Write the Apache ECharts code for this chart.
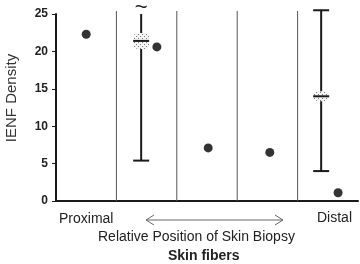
<!DOCTYPE html>
<html>
<head>
<meta charset="utf-8">
<script src="https://cdn.jsdelivr.net/npm/echarts@6/dist/echarts.min.js"></script>
<style>
  html, body { margin: 0; padding: 0; background: #fff; }
  #chart { width: 360px; height: 264px; }
</style>
</head>
<body>
<div id="chart"></div>
<script>
// positions along the leg (0 = proximal, 5 = distal)
const separators = [1, 2, 3, 4];
const dots = [
  [0.5, 22.3],
  [1.67, 20.6],
  [2.52, 7.1],
  [3.54, 6.5],
  [4.67, 1.1],
];
// [x, mean, low, high]
const errorBars = [
  [1.41, 21.4, 5.4, 25],
  [4.39, 14.0, 4.0, 25.5],
];
const brokenTop = [[1.41, 25.9]];
const yTicks = [0, 5, 10, 15, 20, 25];

const ink = "#1a1a1a";

function dotPattern() {
  const c = document.createElement("canvas");
  c.width = 4;
  c.height = 4;
  const g = c.getContext("2d");
  g.fillStyle = "#f4f4f4";
  g.fillRect(0, 0, 4, 4);
  g.fillStyle = "#777";
  g.fillRect(0, 0, 1, 1);
  g.fillRect(2, 2, 1, 1);
  return c;
}

const chart = echarts.init(document.getElementById("chart"));
const pattern = dotPattern();

const option = {
  animation: false,
  grid: { left: 56, right: 2, top: 14, bottom: 63, outerBoundsMode: "none", containLabel: false },
  xAxis: {
    type: "value",
    min: 0,
    max: 5,
    axisLine: { lineStyle: { color: ink, width: 2 } },
    axisTick: { show: false },
    axisLabel: { show: false },
    splitLine: { show: false },
  },
  yAxis: {
    type: "value",
    min: 0,
    max: 25,
    interval: 5,
    axisLine: { show: true, lineStyle: { color: ink, width: 2 } },
    axisTick: { show: true, length: 4, lineStyle: { color: ink, width: 1 } },
    axisLabel: {
      margin: 8,
      fontFamily: "Liberation Sans",
      fontWeight: "bold",
      fontSize: 12,
      color: "#222",
      formatter: (v) => (yTicks.includes(v) ? String(v) : ""),
    },
    splitLine: { show: false },
  },
  series: [
    {
      type: "custom",
      clip: false,
      silent: true,
      data: separators.map((x) => [x]),
      renderItem: (params, api) => {
        const x = api.value(0);
        const a = api.coord([x, 0]);
        const b = api.coord([x, 25.4]);
        return {
          type: "line",
          shape: { x1: a[0], y1: a[1], x2: b[0], y2: b[1] },
          style: { stroke: "#555", lineWidth: 1 },
        };
      },
    },
    {
      type: "custom",
      clip: false,
      silent: true,
      data: errorBars,
      renderItem: (params, api) => {
        const x = api.value(0);
        const mid = api.coord([x, api.value(1)]);
        const lo = api.coord([x, api.value(2)]);
        const hi = api.coord([x, api.value(3)]);
        const capped = api.value(3) > 25;
        const children = [
          {
            type: "line",
            shape: { x1: lo[0], y1: lo[1], x2: hi[0], y2: hi[1] },
            style: { stroke: ink, lineWidth: 2 },
          },
          {
            type: "line",
            shape: { x1: lo[0] - 8, y1: lo[1], x2: lo[0] + 8, y2: lo[1] },
            style: { stroke: ink, lineWidth: 2 },
          },
        ];
        if (capped) {
          children.push({
            type: "line",
            shape: { x1: hi[0] - 8, y1: hi[1], x2: hi[0] + 8, y2: hi[1] },
            style: { stroke: ink, lineWidth: 2 },
          });
        }
        const h = params.dataIndex === 0 ? 16 : 10;
        children.push({
          type: "rect",
          shape: { x: mid[0] - 8, y: mid[1] - h / 2, width: 16, height: h, r: 5 },
          style: { fill: { image: pattern, repeat: "repeat" }, stroke: null },
        });
        children.push({
          type: "line",
          shape: { x1: mid[0] - 8, y1: mid[1], x2: mid[0] + 8, y2: mid[1] },
          style: { stroke: ink, lineWidth: 2 },
        });
        return { type: "group", children };
      },
    },
    {
      type: "custom",
      clip: false,
      silent: true,
      data: brokenTop,
      renderItem: (params, api) => {
        const p = api.coord([api.value(0), api.value(1)]);
        return {
          type: "text",
          x: p[0],
          y: p[1] + 1,
          style: {
            text: "~",
            fontFamily: "Liberation Sans",
            fontSize: 22,
            fill: ink,
            align: "center",
            verticalAlign: "middle",
          },
        };
      },
    },
    {
      type: "scatter",
      symbol: "circle",
      symbolSize: 9,
      itemStyle: { color: "#000" },
      data: dots,
    },
  ],
  graphic: [
    {
      type: "text",
      x: 12,
      y: 98,
      rotation: Math.PI / 2,
      style: {
        text: "IENF Density",
        fontFamily: "Liberation Sans",
        fontSize: 15,
        fill: "#333",
        align: "center",
        verticalAlign: "middle",
      },
    },
    {
      type: "text",
      left: 59,
      top: 212,
      style: { text: "Proximal", fontFamily: "Liberation Sans", fontSize: 14, fill: "#222" },
    },
    {
      type: "text",
      left: 317,
      top: 211,
      style: { text: "Distal", fontFamily: "Liberation Sans", fontSize: 14, fill: "#222" },
    },
    {
      type: "polyline",
      shape: { points: [[154, 215], [146, 220], [154, 225]] },
      style: { stroke: "#666", lineWidth: 1, fill: null },
    },
    {
      type: "line",
      shape: { x1: 146, y1: 220, x2: 283, y2: 220 },
      style: { stroke: "#666", lineWidth: 1 },
    },
    {
      type: "polyline",
      shape: { points: [[275, 215], [283, 220], [275, 225]] },
      style: { stroke: "#666", lineWidth: 1, fill: null },
    },
    {
      type: "text",
      left: 98,
      top: 230,
      style: {
        text: "Relative Position of Skin Biopsy",
        fontFamily: "Liberation Sans",
        fontSize: 14,
        fill: "#222",
      },
    },
    {
      type: "text",
      left: 168,
      top: 249,
      style: {
        text: "Skin fibers",
        fontFamily: "Liberation Sans",
        fontSize: 14,
        fontWeight: "bold",
        fill: "#222",
      },
    },
  ],
};

chart.setOption(option);
</script>
</body>
</html>
